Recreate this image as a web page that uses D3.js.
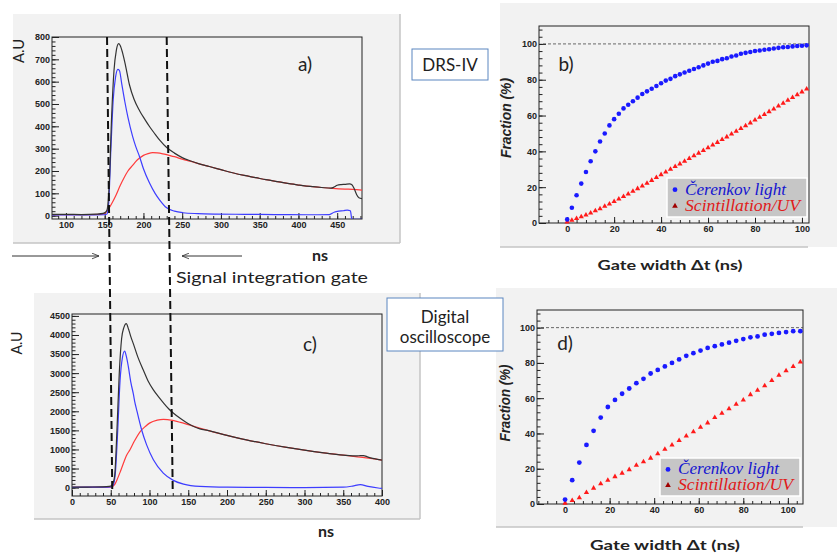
<!DOCTYPE html>
<html>
<head>
<meta charset="utf-8">
<script src="https://cdn.jsdelivr.net/npm/d3@7"></script>
<style>
body{margin:0;background:#fff;}
svg{display:block;}
.tick text{font-family:"Liberation Sans",Arial,sans-serif;font-weight:bold;font-size:9px;fill:#222;}
.domain{display:none;}
.lab{font-family:Lato,"Open Sans",sans-serif;fill:#222;}
</style>
</head>
<body>
<svg id="fig" width="837" height="557"></svg>
<script>
// ---- panel a) DRS-IV waveforms (ns, A.U)
var aBlackT = [82,100,120,140,148,151,153,156,159,162,165,168,170,173,177,182,188,195,202,208,215,221,230,240,250,260,272,285,300,315,330,345,358,375,390,401,415,430,442,446,450,455,460,466,469,472,475,478,482];
var aBlackV = [6,6,5,7,10,15,25,150,450,650,740,770,762,730,670,585,520,470,430,398,365,338,305,280,260,246,232,220,206,192,180,170,161,151,142,137,131,126,123,128,136,139,140,142,138,120,95,80,76];
var aRedT = [82,120,145,150,155,160,165,170,175,180,186,190,195,200,206,212,218,225,232,240,251,260,272,285,300,315,330,345,358,375,390,401,415,430,444,460,470,482];
var aRedV = [5,5,6,10,30,60,95,135,170,200,225,242,258,270,278,282,281,277,271,264,252,244,232,220,206,192,180,170,161,151,142,137,131,126,122,119,118,114];
var aBlueT = [82,120,150,153,155,158,161,164,167,169,172,176,180,186,190,195,200,208,215,221,230,240,251,270,294,330,370,410,440,446,452,458,463,467,469,472,482];
var aBlueV = [3,3,4,8,50,300,520,620,655,650,590,510,440,355,310,264,210,145,100,70,35,20,13,9,7,6,5,4,5,15,20,22,25,22,-17,-17,-17];
var aGate = [153,230];

// ---- panel c) digital oscilloscope waveforms
var cBlackT = [0,20,40,48,52,55,58,61,64,67,70,73,76,79,85,92,98,105,112,118,125,131,140,148,157,165,175,200,225,250,275,300,325,350,362,370,376,382,390,400];
var cBlackV = [10,15,20,30,80,300,1500,3000,3900,4200,4300,4150,3950,3780,3420,3080,2800,2560,2370,2220,2060,1950,1810,1700,1600,1540,1500,1370,1250,1150,1060,980,910,850,830,835,840,800,760,720];
var cRedT = [0,40,50,55,58,62,66,70,75,80,88,95,100,110,118,130,140,150,175,200,225,250,275,300,325,350,375,400];
var cRedV = [5,10,15,80,200,400,620,830,1000,1200,1470,1610,1690,1770,1790,1760,1710,1650,1500,1370,1250,1150,1060,980,910,850,790,720];
var cBlueT = [0,20,40,50,53,56,59,62,65,68,70,72.7,76,79,81,83.4,89.9,96.3,105,117.8,130.7,144,165,200,250,300,350,362,372,382,395,400];
var cBlueV = [5,10,10,20,60,400,1500,2800,3400,3580,3450,3170,2750,2470,2250,2040,1510,1120,730,380,190,90,30,10,5,0,10,40,80,30,-10,-20];
var cGate = [52,130];

// ---- panel b) fraction vs gate width (DRS-IV)
var bGate = [0,2,4,6,8,10,12,14,16,18,20,22,24,26,28,30,32,34,36,38,40,42,44,46,48,50,52,54,56,58,60,62,64,66,68,70,72,74,76,78,80,82,84,86,88,90,92,94,96,98,100,102];
var bCeren = [2,8.5,15.5,22,28.5,34.5,40,45.5,50,54.5,58,61,64,66,68,70,72,73.5,75,76.5,78,79.5,80.5,82,83,84,85,86,87,88,89,90,90.5,91.5,92,93,93.5,94.5,95,95.5,96,96.3,96.7,97,97.4,97.8,98.1,98.3,98.6,98.8,99,99.2];
var bScint = [0.5,1.5,2.5,3.5,4.5,5.6,6.8,8,9.3,10.6,12,13.4,14.8,16.2,17.7,19.2,20.7,22.2,23.8,25.4,27,28.5,30,31.5,33,34.5,36,37.5,39,40.5,42,43.5,45,46.6,48.1,49.7,51.2,52.8,54.3,55.9,57.5,59,60.6,62.2,63.7,65.3,66.9,68.5,70.1,71.6,73.2,74.8];

// ---- panel d) fraction vs gate width (digital oscilloscope)
var dGate = [0,3.2,6.4,9.6,12.8,16,19.2,22.4,25.6,28.8,32,35.2,38.4,41.6,44.8,48,51.2,54.4,57.6,60.8,64,67.2,70.4,73.6,76.8,80,83.2,86.4,89.6,92.8,96,99.2,102.4,105.6];
var dCeren = [2.5,13.5,23.5,33.5,41.5,49,55,59,62.5,65.5,68.5,71,74,76,78,80,82,84,85.5,87,88.5,89.5,90.5,91.5,92.5,93.5,94.5,95,96,96.5,97,97.5,98,98];
var dScint = [0.5,2,3.5,6.5,9,11.5,13.5,15.5,17.5,19.5,22,24,26,28.5,31,33.5,36,38.5,41,43.5,46,49,51.5,54,56.5,59,62,64.5,67,70,73,75.5,78,80.5];

var legendNames = ["Čerenkov light","Scintillation/UV"];

var svg = d3.select("#fig");
var defs = svg.append("defs");
defs.append("marker").attr("id","arr").attr("viewBox","0 0 10 10").attr("refX",10).attr("refY",5)
  .attr("markerWidth",7).attr("markerHeight",7).attr("orient","auto-start-reverse")
  .append("path").attr("d","M0,1 L10,5 L0,9").attr("fill","none").attr("stroke","#333").attr("stroke-width",1.2);

// pad backgrounds
function pad(x0,y0,x1,y1,xb){
  svg.append("rect").attr("x",x0).attr("y",y0).attr("width",x1-x0).attr("height",y1-y0).attr("fill","#f2f2f2");
  svg.append("line").attr("x1",x0).attr("x2",xb).attr("y1",y1).attr("y2",y1).attr("stroke","#c4c4c4").attr("stroke-width",1.5);
}
pad(13,14,400,243,400);
svg.append("line").attr("x1",400).attr("x2",400).attr("y1",14).attr("y2",243).attr("stroke","#c4c4c4").attr("stroke-width",1.5);
pad(34,293,420,519,420);
svg.append("line").attr("x1",420).attr("x2",420).attr("y1",293).attr("y2",519).attr("stroke","#c4c4c4").attr("stroke-width",1.5);
pad(500,3,837,247,808);
pad(496,288,837,527,803);

// ROOT style frame + axes
function frame(p){
  var x = d3.scaleLinear().domain(p.xd).range([p.l,p.r]);
  var y = d3.scaleLinear().domain(p.yd).range([p.b,p.t]);
  var g = svg.append("g");
  g.append("g").attr("transform","translate("+p.l+",0)")
    .call(d3.axisLeft(y).tickValues(p.yMinor).tickSizeInner(-3.5).tickSizeOuter(0).tickFormat(""));
  g.append("g").attr("transform","translate("+p.l+",0)")
    .call(d3.axisLeft(y).tickValues(p.yMajor).tickSizeInner(-7).tickSizeOuter(0).tickPadding(2).tickFormat(d3.format("d")));
  g.append("g").attr("transform","translate(0,"+p.b+")")
    .call(d3.axisBottom(x).tickValues(p.xMinor).tickSizeInner(-3).tickSizeOuter(0).tickFormat(""));
  g.append("g").attr("transform","translate(0,"+p.b+")")
    .call(d3.axisBottom(x).tickValues(p.xMajor).tickSizeInner(-6).tickSizeOuter(0).tickPadding(3).tickFormat(d3.format("d")));
  g.selectAll(".tick line").attr("stroke","#222");
  g.append("rect").attr("x",p.l).attr("y",p.t).attr("width",p.r-p.l).attr("height",p.b-p.t)
    .attr("fill","none").attr("stroke","#222").attr("stroke-width",1);
  defs.append("clipPath").attr("id",p.id).append("rect")
    .attr("x",p.l).attr("y",p.t).attr("width",p.r-p.l).attr("height",p.b-p.t);
  return {x:x,y:y};
}

var A = frame({id:"clipA",l:52,t:37,r:362,b:219,xd:[82,482],yd:[-15,800],
  xMajor:d3.range(100,451,50),xMinor:d3.range(90,481,10),yMajor:d3.range(0,801,100),yMinor:d3.range(0,801,20)});
var C = frame({id:"clipC",l:72,t:314,r:382,b:496,xd:[0,400],yd:[-220,4550],
  xMajor:d3.range(0,401,50),xMinor:d3.range(0,401,10),yMajor:d3.range(0,4501,500),yMinor:d3.range(0,4501,100)});
var B = frame({id:"clipB",l:539,t:26,r:809,b:223,xd:[-12,103],yd:[0,110],
  xMajor:d3.range(0,101,20),xMinor:d3.range(-8,103,4),yMajor:d3.range(0,101,20),yMinor:d3.range(0,109,4)});
var D = frame({id:"clipD",l:537,t:310,r:803,b:504,xd:[-12.6,106.8],yd:[0,110],
  xMajor:d3.range(0,101,20),xMinor:d3.range(-12,106,4),yMajor:d3.range(0,101,20),yMinor:d3.range(0,109,4)});

function trace(S,clip,T,V,col){
  var line = d3.line().x(function(d){return S.x(d[0]);}).y(function(d){return S.y(d[1]);}).curve(d3.curveMonotoneX);
  svg.append("path").datum(d3.zip(T,V)).attr("clip-path","url(#"+clip+")")
    .attr("d",line).attr("fill","none").attr("stroke",col).attr("stroke-width",1.2);
}
trace(A,"clipA",aRedT,aRedV,"#ff3b3b");
trace(A,"clipA",aBlueT,aBlueV,"#3d3dff");
trace(A,"clipA",aBlackT,aBlackV,"#333");
trace(C,"clipC",cRedT,cRedV,"#ff3b3b");
trace(C,"clipC",cBlueT,cBlueV,"#3d3dff");
trace(C,"clipC",cBlackT,cBlackV,"#333");

function points(S,T,Cv,Sv,r){
  svg.append("line").attr("x1",S.x.range()[0]+4).attr("x2",S.x.range()[1]).attr("y1",S.y(100)).attr("y2",S.y(100))
    .attr("stroke","#444").attr("stroke-dasharray","3,2").attr("stroke-width",0.8);
  var tri = d3.symbol().type(d3.symbolTriangle).size(12);
  svg.append("g").selectAll("path").data(d3.zip(T,Sv)).join("path")
    .attr("d",tri).attr("fill","#ff1a1a")
    .attr("transform",function(d){return "translate("+S.x(d[0])+","+S.y(d[1])+")";});
  svg.append("g").selectAll("circle").data(d3.zip(T,Cv)).join("circle")
    .attr("cx",function(d){return S.x(d[0]);}).attr("cy",function(d){return S.y(d[1]);})
    .attr("r",r).attr("fill","#1a1aff");
}
points(B,bGate,bCeren,bScint,2.3);
points(D,dGate,dCeren,dScint,2.4);

function legend(x0,y0,w,h){
  svg.append("rect").attr("x",x0).attr("y",y0).attr("width",w).attr("height",h)
    .attr("fill","#c6c6c6").attr("stroke","#fff").attr("stroke-width",1.5);
  svg.append("circle").attr("cx",x0+8).attr("cy",y0+h*0.3).attr("r",2.4).attr("fill","#1a1aff");
  svg.append("path").attr("d",d3.symbol().type(d3.symbolTriangle).size(14)())
    .attr("transform","translate("+(x0+8)+","+(y0+h*0.72)+")").attr("fill","#a00000");
  var cols = ["#1515d0","#e01a1a"];
  legendNames.forEach(function(n,i){
    svg.append("text").attr("x",x0+18).attr("y",y0+h*(i==0?0.3:0.72)+5).text(n)
      .attr("font-family","'Liberation Serif','Times New Roman',serif").attr("font-style","italic")
      .attr("font-size",16).attr("fill",cols[i]).attr("textLength",i==0?101:115).attr("lengthAdjust","spacingAndGlyphs");
  });
}
legend(667,178,140,39);
legend(660,458,140,38);

// dashed gate lines crossing panels a and c
[0,1].forEach(function(i){
  svg.append("line").attr("x1",A.x(aGate[i])).attr("y1",37).attr("x2",C.x(cGate[i])).attr("y2",493)
    .attr("stroke","#111").attr("stroke-width",2).attr("stroke-dasharray","8,4");
});

// labels
function txt(x,y,s,size,opt){
  opt = opt||{};
  var t = svg.append("text").attr("class","lab").attr("x",x).attr("y",y).text(s).attr("font-size",size)
    .attr("text-anchor",opt.anchor||"middle");
  if(opt.bold) t.attr("font-weight","bold");
  if(opt.len) t.attr("textLength",opt.len).attr("lengthAdjust","spacingAndGlyphs");
  if(opt.rot) t.attr("transform","rotate(-90,"+x+","+y+")");
  if(opt.family) t.style("font-family",opt.family);
  if(opt.italic) t.attr("font-style","italic");
  return t;
}
txt(24,51,"A.U",16,{rot:true,len:24});
txt(22,343,"A.U",16,{rot:true,len:23});
txt(305,71,"a)",19);
txt(310,351,"c)",19);
txt(566,71,"b)",19);
txt(565,350,"d)",19);
txt(320,261,"ns",16,{bold:true});
txt(326,537,"ns",16,{bold:true});
txt(176,283,"Signal integration gate",16,{anchor:"start",len:192});
txt(511,118,"Fraction (%)",14,{rot:true,len:80,italic:true,bold:true,family:"'Liberation Sans',Arial,sans-serif"});
txt(510,403,"Fraction (%)",14,{rot:true,len:77,italic:true,bold:true,family:"'Liberation Sans',Arial,sans-serif"});
txt(670,270,"Gate width \u0394t  (ns)",14,{bold:true,len:145});
txt(665,550,"Gate width \u0394t (ns)",14,{bold:true,len:150});

svg.append("line").attr("x1",12).attr("x2",99).attr("y1",256).attr("y2",256)
  .attr("stroke","#333").attr("stroke-width",1).attr("marker-end","url(#arr)");
svg.append("line").attr("x1",242).attr("x2",182).attr("y1",256).attr("y2",256)
  .attr("stroke","#333").attr("stroke-width",1).attr("marker-end","url(#arr)");

// instrument boxes
svg.append("rect").attr("x",412).attr("y",49).attr("width",76).attr("height",31)
  .attr("fill","#fff").attr("stroke","#5b86c0").attr("stroke-width",1);
txt(450,71,"DRS-IV",17);
svg.append("rect").attr("x",387).attr("y",298).attr("width",116).attr("height",53)
  .attr("fill","#fff").attr("stroke","#5b86c0").attr("stroke-width",1);
txt(445,323,"Digital",17);
txt(445,343,"oscilloscope",17);
</script>
</body>
</html>
